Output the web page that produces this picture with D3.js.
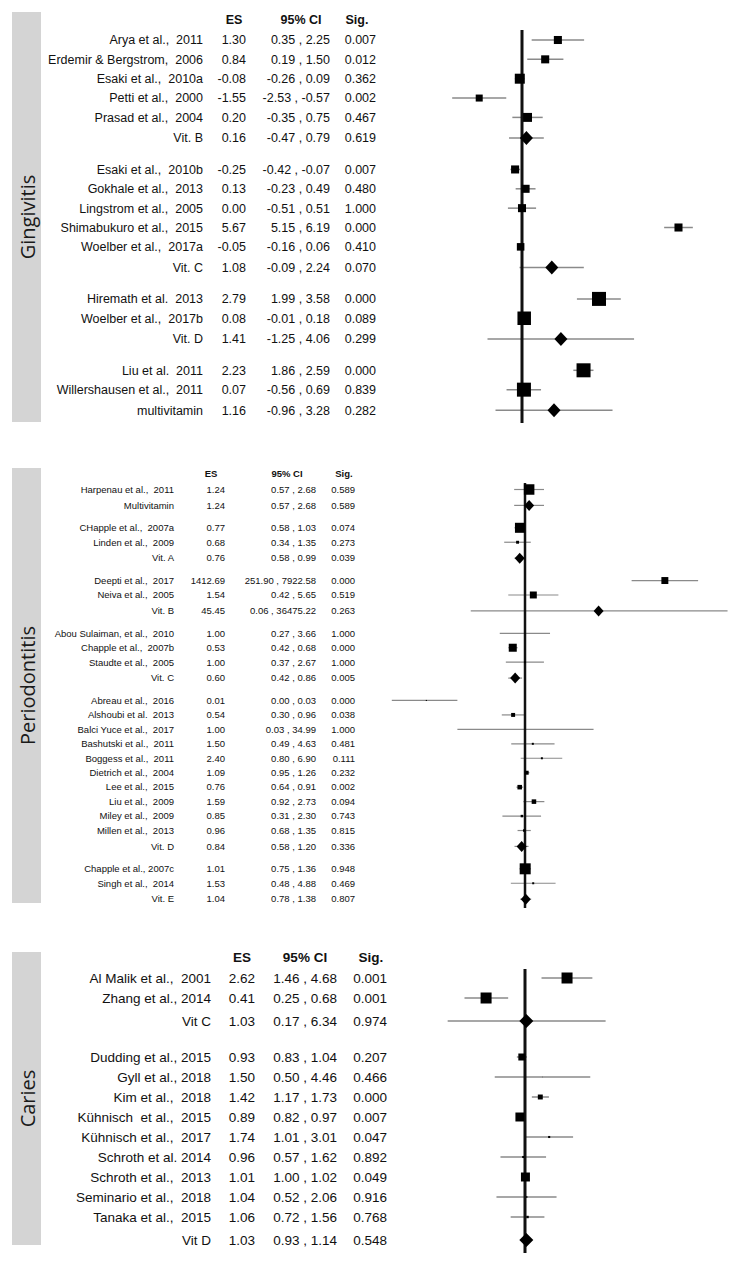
<!DOCTYPE html>
<html>
<head>
<meta charset="utf-8">
<script src="https://cdn.jsdelivr.net/npm/d3@7"></script>
<style>
  html, body { margin: 0; padding: 0; background: #fff; }
  svg { display: block; }
</style>
</head>
<body>
<svg id="chart" width="738" height="1263"></svg>
<script>
// ---------------- DATA ----------------
// Gingivitis (effect sizes, linear scale)
const gingLabels = ["Arya et al.,  2011", "Erdemir & Bergstrom,  2006", "Esaki et al.,  2010a", "Petti et al.,  2000", "Prasad et al.,  2004", "Vit. B",
  "Esaki et al.,  2010b", "Gokhale et al.,  2013", "Lingstrom et al.,  2005", "Shimabukuro et al.,  2015", "Woelber et al.,  2017a", "Vit. C",
  "Hiremath et al.  2013", "Woelber et al.,  2017b", "Vit. D",
  "Liu et al.  2011", "Willershausen et al.,  2011", "multivitamin"];
const gingKind = ["s","s","s","s","s","p", "s","s","s","s","s","p", "s","s","p", "s","s","p"];
const gingES   = [1.30, 0.84, -0.08, -1.55, 0.20, 0.16, -0.25, 0.13, 0.00, 5.67, -0.05, 1.08, 2.79, 0.08, 1.41, 2.23, 0.07, 1.16];
const gingLow  = [0.35, 0.19, -0.26, -2.53, -0.35, -0.47, -0.42, -0.23, -0.51, 5.15, -0.16, -0.09, 1.99, -0.01, -1.25, 1.86, -0.56, -0.96];
const gingHigh = [2.25, 1.50, 0.09, -0.57, 0.75, 0.79, -0.07, 0.49, 0.51, 6.19, 0.06, 2.24, 3.58, 0.18, 4.06, 2.59, 0.69, 3.28];
const gingSig  = [0.007, 0.012, 0.362, 0.002, 0.467, 0.619, 0.007, 0.480, 1.000, 0.000, 0.410, 0.070, 0.000, 0.089, 0.299, 0.000, 0.839, 0.282];
const gingWeight = [33, 33, 51, 25, 41, null, 33, 33, 33, 33, 29, null, 100, 93, null, 100, 100, null];

// Periodontitis (odds ratios, log scale)
const perioLabels = ["Harpenau et al.,  2011", "Multivitamin",
  "CHapple et al.,  2007a", "Linden et al.,  2009", "Vit. A",
  "Deepti et al.,  2017", "Neiva et al.,  2005", "Vit. B",
  "Abou Sulaiman, et al.,  2010", "Chapple et al.,  2007b", "Staudte et al.,  2005", "Vit. C",
  "Abreau et al.,  2016", "Alshoubi et al.  2013", "Balci Yuce et al.,  2017", "Bashutski et al.,  2011", "Boggess et al.,  2011",
  "Dietrich et al.,  2004", "Lee et al.,  2015", "Liu et al.,  2009", "Miley et al.,  2009", "Millen et al.,  2013", "Vit. D",
  "Chapple et al., 2007c", "Singh et al.,  2014", "Vit. E"];
const perioKind = ["s","p", "s","s","p", "s","s","p", "s","s","s","p", "s","s","s","s","s","s","s","s","s","s","p", "s","s","p"];
const perioES   = [1.24, 1.24, 0.77, 0.68, 0.76, 1412.69, 1.54, 45.45, 1.00, 0.53, 1.00, 0.60,
  0.006, 0.54, 1.00, 1.50, 2.40, 1.09, 0.76, 1.59, 0.85, 0.96, 0.84, 1.01, 1.53, 1.04];
const perioLow  = [0.57, 0.57, 0.58, 0.34, 0.58, 251.90, 0.42, 0.06, 0.27, 0.42, 0.37, 0.42,
  0.001, 0.30, 0.03, 0.49, 0.80, 0.95, 0.64, 0.92, 0.31, 0.68, 0.58, 0.75, 0.48, 0.78];
const perioHigh = [2.68, 2.68, 1.03, 1.35, 0.99, 7922.58, 5.65, 36475.22, 3.66, 0.68, 2.67, 0.86,
  0.03, 0.96, 34.99, 4.63, 6.90, 1.26, 0.91, 2.73, 2.30, 1.35, 1.20, 1.36, 4.88, 1.38];
const perioSig  = [0.589, 0.589, 0.074, 0.273, 0.039, 0.000, 0.519, 0.263, 1.000, 0.000, 1.000, 0.005,
  0.000, 0.038, 1.000, 0.481, 0.111, 0.232, 0.002, 0.094, 0.743, 0.815, 0.336, 0.948, 0.469, 0.807];
const perioWeight = [91, null, 83, 7, null, 40, 40, null, 0.5, 53, 3.3, null,
  1, 13, 0.2, 3.3, 3.3, 13, 17, 17, 5, 5, null, 100, 3.3, null];

// Caries (odds ratios, log scale)
const cariesLabels = ["Al Malik et al.,  2001", "Zhang et al., 2014", "Vit C",
  "Dudding et al., 2015", "Gyll et al., 2018", "Kim et al.,  2018", "Kühnisch  et al.,  2015", "Kühnisch et al.,  2017",
  "Schroth et al. 2014", "Schroth et al.,  2013", "Seminario et al.,  2018", "Tanaka et al.,  2015", "Vit D"];
const cariesKind = ["s","s","p", "s","s","s","s","s","s","s","s","s","p"];
const cariesES   = [2.62, 0.41, 1.03, 0.93, 1.50, 1.42, 0.89, 1.74, 0.96, 1.01, 1.04, 1.06, 1.03];
const cariesLow  = [1.46, 0.25, 0.17, 0.83, 0.50, 1.17, 0.82, 1.01, 0.57, 1.00, 0.52, 0.72, 0.93];
const cariesHigh = [4.68, 0.68, 6.34, 1.04, 4.46, 1.73, 0.97, 3.01, 1.62, 1.02, 2.06, 1.56, 1.14];
const cariesSig  = [0.001, 0.001, 0.974, 0.207, 0.466, 0.000, 0.007, 0.047, 0.892, 0.049, 0.916, 0.768, 0.548];
const cariesWeight = [84, 84, null, 34, 0.2, 17, 56, 3, 3, 56, 1.6, 4, null];

const headerLabels = ["ES", "95% CI", "Sig."];
const panelTitles = ["Gingivitis", "Periodontitis", "Caries"];

// ---------------- LAYOUT ----------------
const panels = [
  { title: panelTitles[0], labels: gingLabels, kind: gingKind, es: gingES, lo: gingLow, hi: gingHigh, sig: gingSig, w: gingWeight,
    barTop: 12, barBottom: 422, headerY: 20, firstY: 40, step: 19.35, pooledGap: 1.07, groupGap: 1.62,
    font: 12.5, cols: { name: 203, es: 246, ci: 330, sig: 376, esH: 234, ciH: 301, sigH: 357 },
    x: d3.scaleLinear().domain([-3, 6.5]).range([439.2, 701.4]), ref: 0,
    lineTop: 30, lineBottom: 423, sizeMax: 14, dia: [6.5, 7], ciWidth: 1.5, refWidth: 3 },
  { title: panelTitles[1], labels: perioLabels, kind: perioKind, es: perioES, lo: perioLow, hi: perioHigh, sig: perioSig, w: perioWeight,
    barTop: 468, barBottom: 903, headerY: 474, firstY: 489.5, step: 14.45, pooledGap: 1.1, groupGap: 1.55,
    font: 9.5, cols: { name: 174, es: 225, ci: 316, sig: 355, esH: 211, ciH: 287, sigH: 344 },
    x: d3.scaleLog().domain([0.001, 100000]).range([391.8, 747]), ref: 1,
    lineTop: 483, lineBottom: 908, sizeMax: 11, dia: [5, 5.5], ciWidth: 1.2, refWidth: 2.5 },
  { title: panelTitles[2], labels: cariesLabels, kind: cariesKind, es: cariesES, lo: cariesLow, hi: cariesHigh, sig: cariesSig, w: cariesWeight,
    barTop: 952, barBottom: 1245, headerY: 957, firstY: 978, step: 20, pooledGap: 1.15, groupGap: 1.8,
    font: 13.5, cols: { name: 211, es: 255, ci: 337, sig: 387, esH: 242, ciH: 305, sigH: 371 },
    x: d3.scaleLog().domain([0.1, 10]).range([424.5, 625.5]), ref: 1,
    lineTop: 969, lineBottom: 1253, sizeMax: 12, dia: [7, 7], ciWidth: 1.5, refWidth: 3 }
];

const svg = d3.select("#chart");
const textFont = "'Liberation Sans', Arial, sans-serif";

panels.forEach(p => {
  // slot positions in row units
  const slots = [];
  let u = 0;
  p.kind.forEach((k, i) => {
    if (i > 0) {
      if (k === "p") u += p.pooledGap;
      else if (p.kind[i - 1] === "p") u += p.groupGap;
      else u += 1;
    }
    slots.push(u);
  });
  const y = d3.scaleLinear().domain([0, 1]).range([p.firstY, p.firstY + p.step]);
  const size = d3.scaleSqrt().domain([0, 100]).range([0, p.sizeMax]);

  const rows = p.labels.map((label, i) => ({
    label, kind: p.kind[i], es: p.es[i], lo: p.lo[i], hi: p.hi[i], sig: p.sig[i], w: p.w[i], y: y(slots[i])
  }));

  const g = svg.append("g");

  // side bar + title
  g.append("rect").attr("x", 12).attr("y", p.barTop).attr("width", 29).attr("height", p.barBottom - p.barTop)
    .attr("fill", "#d4d4d4");
  g.append("text")
    .attr("transform", `translate(27.5,${(p.barTop + p.barBottom) / 2}) rotate(-90)`)
    .attr("text-anchor", "middle").attr("dominant-baseline", "central")
    .attr("font-family", "'Open Sans', 'Noto Sans', sans-serif").attr("font-size", 20)
    .attr("fill", "#1a1a1a").text(p.title);

  // headers
  const hx = [p.cols.esH, p.cols.ciH, p.cols.sigH];
  g.selectAll("text.hdr").data(headerLabels).join("text")
    .attr("class", "hdr").attr("x", (d, i) => hx[i]).attr("y", p.headerY)
    .attr("text-anchor", "middle").attr("dy", "0.35em")
    .attr("font-family", textFont).attr("font-weight", "bold").attr("font-size", p.font)
    .attr("fill", "#111").text(d => d);

  // table columns
  const cols = [
    { x: p.cols.name, f: d => d.label },
    { x: p.cols.es, f: d => d.es.toFixed(2) },
    { x: p.cols.ci, f: d => `${d.lo.toFixed(2)} , ${d.hi.toFixed(2)}` },
    { x: p.cols.sig, f: d => d.sig.toFixed(3) }
  ];
  cols.forEach(c => {
    g.append("g").selectAll("text").data(rows).join("text")
      .attr("x", c.x).attr("y", d => d.y).attr("dy", "0.35em")
      .attr("text-anchor", "end").attr("font-family", textFont).attr("font-size", p.font)
      .attr("fill", "#111").style("white-space", "pre").text(c.f);
  });

  // CI lines
  g.append("g").selectAll("line").data(rows).join("line")
    .attr("x1", d => p.x(d.lo)).attr("x2", d => p.x(d.hi))
    .attr("y1", d => d.y).attr("y2", d => d.y)
    .attr("stroke", "#8a8a8a").attr("stroke-width", p.ciWidth);

  // reference line
  g.append("line").attr("x1", p.x(p.ref)).attr("x2", p.x(p.ref))
    .attr("y1", p.lineTop).attr("y2", p.lineBottom)
    .attr("stroke", "#111").attr("stroke-width", p.refWidth);

  // study squares
  g.append("g").selectAll("rect").data(rows.filter(d => d.kind === "s")).join("rect")
    .attr("x", d => p.x(d.es) - size(d.w) / 2).attr("y", d => d.y - size(d.w) / 2)
    .attr("width", d => size(d.w)).attr("height", d => size(d.w))
    .attr("fill", "#000");

  // pooled diamonds
  g.append("g").selectAll("path").data(rows.filter(d => d.kind === "p")).join("path")
    .attr("d", d => {
      const cx = p.x(d.es), cy = d.y, w = p.dia[0], h = p.dia[1];
      return `M${cx - w},${cy}L${cx},${cy - h}L${cx + w},${cy}L${cx},${cy + h}Z`;
    })
    .attr("fill", "#000");
});
</script>
</body>
</html>
